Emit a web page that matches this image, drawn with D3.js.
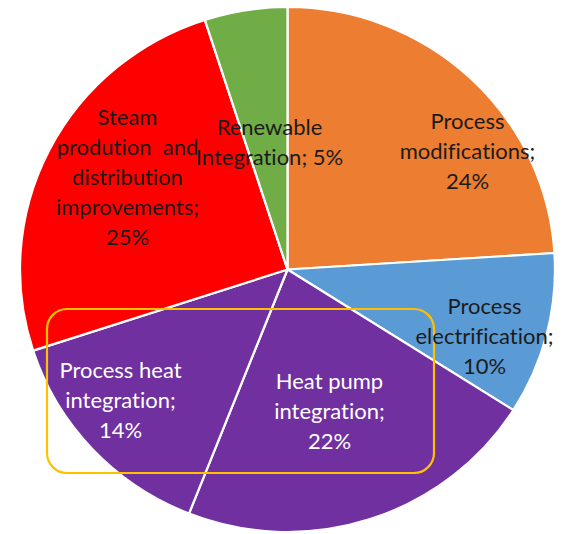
<!DOCTYPE html>
<html>
<head>
<meta charset="utf-8">
<script src="https://cdn.jsdelivr.net/npm/d3@7"></script>
<style>
  html, body { margin: 0; padding: 0; background: #ffffff; }
  svg { display: block; }
  text { font-family: Lato, "Open Sans", sans-serif; white-space: pre; font-variant-ligatures: none; font-feature-settings: "liga" 0; }
</style>
</head>
<body>
<svg id="chart" width="565" height="534"></svg>
<script>
// Share of measures (percent), clockwise from 12 o'clock
const categories = [
  "Process modifications",
  "Process electrification",
  "Heat pump integration",
  "Process heat integration",
  "Steam prodution  and distribution improvements",
  "Renewable Integration"
];
const shares = [24, 10, 22, 14, 25, 5];

// Label text broken into lines as shown on each slice
const labelLines = [
  ["Process", "modifications;", "24%"],
  ["Process", "electrification;", "10%"],
  ["Heat pump", "integration;", "22%"],
  ["Process heat", "integration;", "14%"],
  ["Steam", "prodution  and", "distribution", "improvements;", "25%"],
  ["Renewable", "Integration; 5%"]
];

const colors = ["#ED7D31", "#5B9BD5", "#7030A0", "#7030A0", "#FF0000", "#70AD47"];
const textColors = ["#1b1b1b", "#1b1b1b", "#ffffff", "#ffffff", "#1b1b1b", "#1b1b1b"];
// label block centres, relative to the pie centre
const labelPos = [[180, -118], [197, 67], [42, 142], [-167, 131], [-160, -92], [-18, -127]];

const cx = 287.5, cy = 269.5, radius = 262.5, xStretch = 267.5 / 262.5;
const fontSize = 22, lineH = 30;

const svg = d3.select("#chart");
const g = svg.append("g")
  .attr("transform", `translate(${cx},${cy})`);

const pie = d3.pie().sort(null).value(d => d.value).startAngle(0).endAngle(2 * Math.PI);
const arc = d3.arc().innerRadius(0).outerRadius(radius);

const data = categories.map((c, i) => ({ name: c, value: shares[i], i }));

g.append("g")
  .attr("transform", `scale(${xStretch},1)`)
  .selectAll("path")
  .data(pie(data))
  .join("path")
  .attr("d", arc)
  .attr("fill", d => colors[d.data.i])
  .attr("stroke", "#ffffff")
  .attr("stroke-width", 2.2)
  .attr("stroke-linejoin", "round");

// Highlight frame around the heat-integration measures
svg.append("rect")
  .attr("x", 47).attr("y", 309)
  .attr("width", 387).attr("height", 164)
  .attr("rx", 20).attr("ry", 20)
  .attr("fill", "none")
  .attr("stroke", "#FFC000")
  .attr("stroke-width", 2.2);

// Slice labels
const labels = svg.append("g").attr("transform", `translate(${cx},${cy})`);
data.forEach((d, i) => {
  const lines = labelLines[i];
  const [lx, ly] = labelPos[i];
  const t = labels.append("text")
    .attr("text-anchor", "middle")
    .attr("font-size", fontSize)
    .attr("fill", textColors[i]);
  lines.forEach((ln, k) => {
    t.append("tspan")
      .attr("x", lx)
      .attr("y", ly + (k - (lines.length - 1) / 2) * lineH)
      .attr("dy", "0.35em")
      .text(ln);
  });
});
</script>
</body>
</html>
